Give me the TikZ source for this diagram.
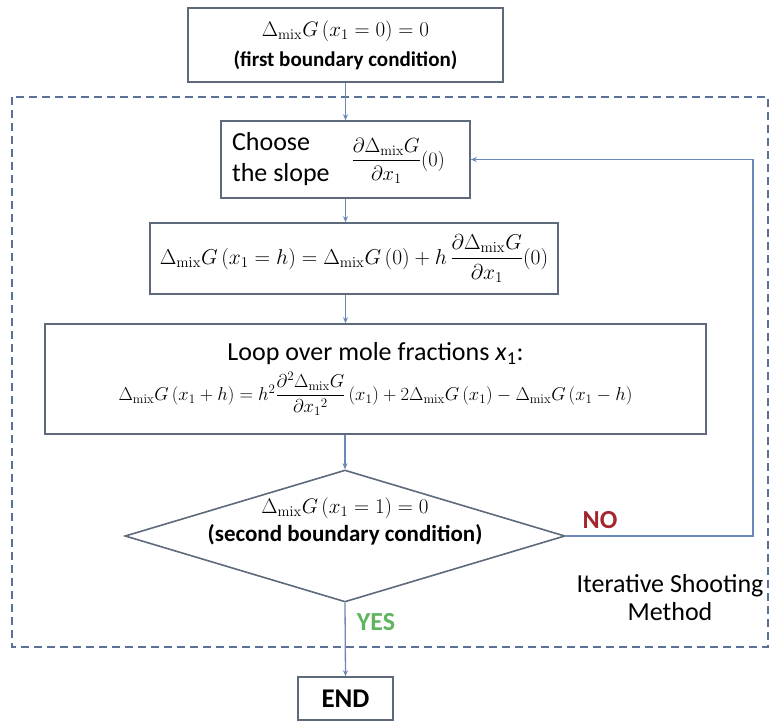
\RequirePackage{fix-cm}
\documentclass[tikz,border=0pt]{standalone}
\usepackage{amsmath}
\usepackage[no-math]{fontspec}
\setmainfont{Carlito}
\usepackage{tikz}
\usetikzlibrary{shapes.geometric}
\usetikzlibrary{arrows.meta}
\definecolor{boxline}{HTML}{5E6A7B}
\definecolor{flowline}{HTML}{6A88B8}
\definecolor{frameline}{HTML}{5A7298}
\definecolor{nored}{HTML}{A3262E}
\definecolor{yesgreen}{HTML}{5FB45F}
\newcommand{\dmix}{\Delta_{\mathrm{mix}}}

\begin{document}
\begin{tikzpicture}[x=1pt, y=-1pt, >={Stealth[length=6pt, width=5pt]},
    stepbox/.style={draw=boxline, line width=1.6pt, inner sep=0pt, align=center,
      font=\fontsize{21}{30}\selectfont},
    flow/.style={draw=flowline, line width=1.3pt},
    answer/.style={font=\fontsize{26}{30}\selectfont\bfseries}]
    \useasboundingbox (0,0) rectangle (772,721);
    % frame of the iteration
    \draw[frameline, line width=1.3pt, dash pattern=on 8pt off 5pt] (12,97) rectangle (768,647);
    \node[stepbox, minimum width=315pt, minimum height=74pt] (first) at (345.5,45)
      {$\dmix G\left(x_1=0\right)=0$\\[0pt]
       {\fontsize{21}{26}\selectfont\bfseries (first boundary condition)}};
    \node[stepbox, minimum width=249pt, minimum height=77pt] (slope) at (345.5,159.5)
      {\mbox{{\fontsize{26}{31}\selectfont\begin{tabular}{@{}l@{}}Choose\\the slope\end{tabular}}\hspace{22pt}%
       {\fontsize{20.5}{24}\selectfont$\dfrac{\partial\dmix G}{\partial x_1}(0)$}\hspace{14pt}}};
    \node[stepbox, minimum width=408pt, minimum height=71pt, font=\fontsize{21.5}{30}\selectfont]
      (euler) at (354,258.5)
      {$\dmix G\left(x_1=h\right)=\dmix G\left(0\right)+h\,\dfrac{\partial\dmix G}{\partial x_1}(0)$};
    \node[stepbox, minimum width=661pt, minimum height=110pt] (sweep) at (375.5,379)
      {{\fontsize{26}{31}\selectfont Loop over mole fractions \textit{x}\textsubscript{1}:}\\[7pt]
       {\fontsize{18.6}{24}\selectfont$\dmix G\left(x_1+h\right)=h^2\dfrac{\partial^2\dmix G}{\partial {x_1}^{2}}\left(x_1\right)
        +2\dmix G\left(x_1\right)-\dmix G\left(x_1-h\right)$}};
    \node[diamond, draw=boxline, line width=1.6pt, minimum width=440pt, minimum height=132pt,
      inner sep=0pt] (check) at (345,536) {};
    \node[align=center, font=\fontsize{21}{30}\selectfont] (checktext) at (345,521)
      {$\dmix G\left(x_1=1\right)=0$\\[-2pt]
       {\fontsize{23}{28}\selectfont\bfseries (second boundary condition)}};
    \node[stepbox, minimum width=95pt, minimum height=43pt,
      font=\fontsize{27}{30}\selectfont\bfseries] (finish) at (345.5,698.5) {END};
    \coordinate (turn1) at (753,536);
    \coordinate (turn2) at (753,159.5);
    % connectors
    \draw[flow, ->] (first) -- (slope);
    \draw[flow, ->] (slope.south) -- (slope.south |- euler.north);
    \draw[flow, ->] (euler.south -| slope.south) -- (slope.south |- sweep.north);
    \draw[flow, ->] (sweep.south -| check.north) -- (check.north);
    \draw[flow, ->] (check.south) -- (finish.north);
    \draw[flow, ->] (check.east) -- (turn1) -- (turn2) -- (slope.east);
    % labels
    \node[answer, text=nored] (no) at (600,520) {NO};
    \node[answer, text=yesgreen] (yes) at (376,622) {YES};
    \node[align=center, font=\fontsize{26}{28}\selectfont] (method) at (670,598)
      {Iterative Shooting\\Method};
\end{tikzpicture}
\end{document}
